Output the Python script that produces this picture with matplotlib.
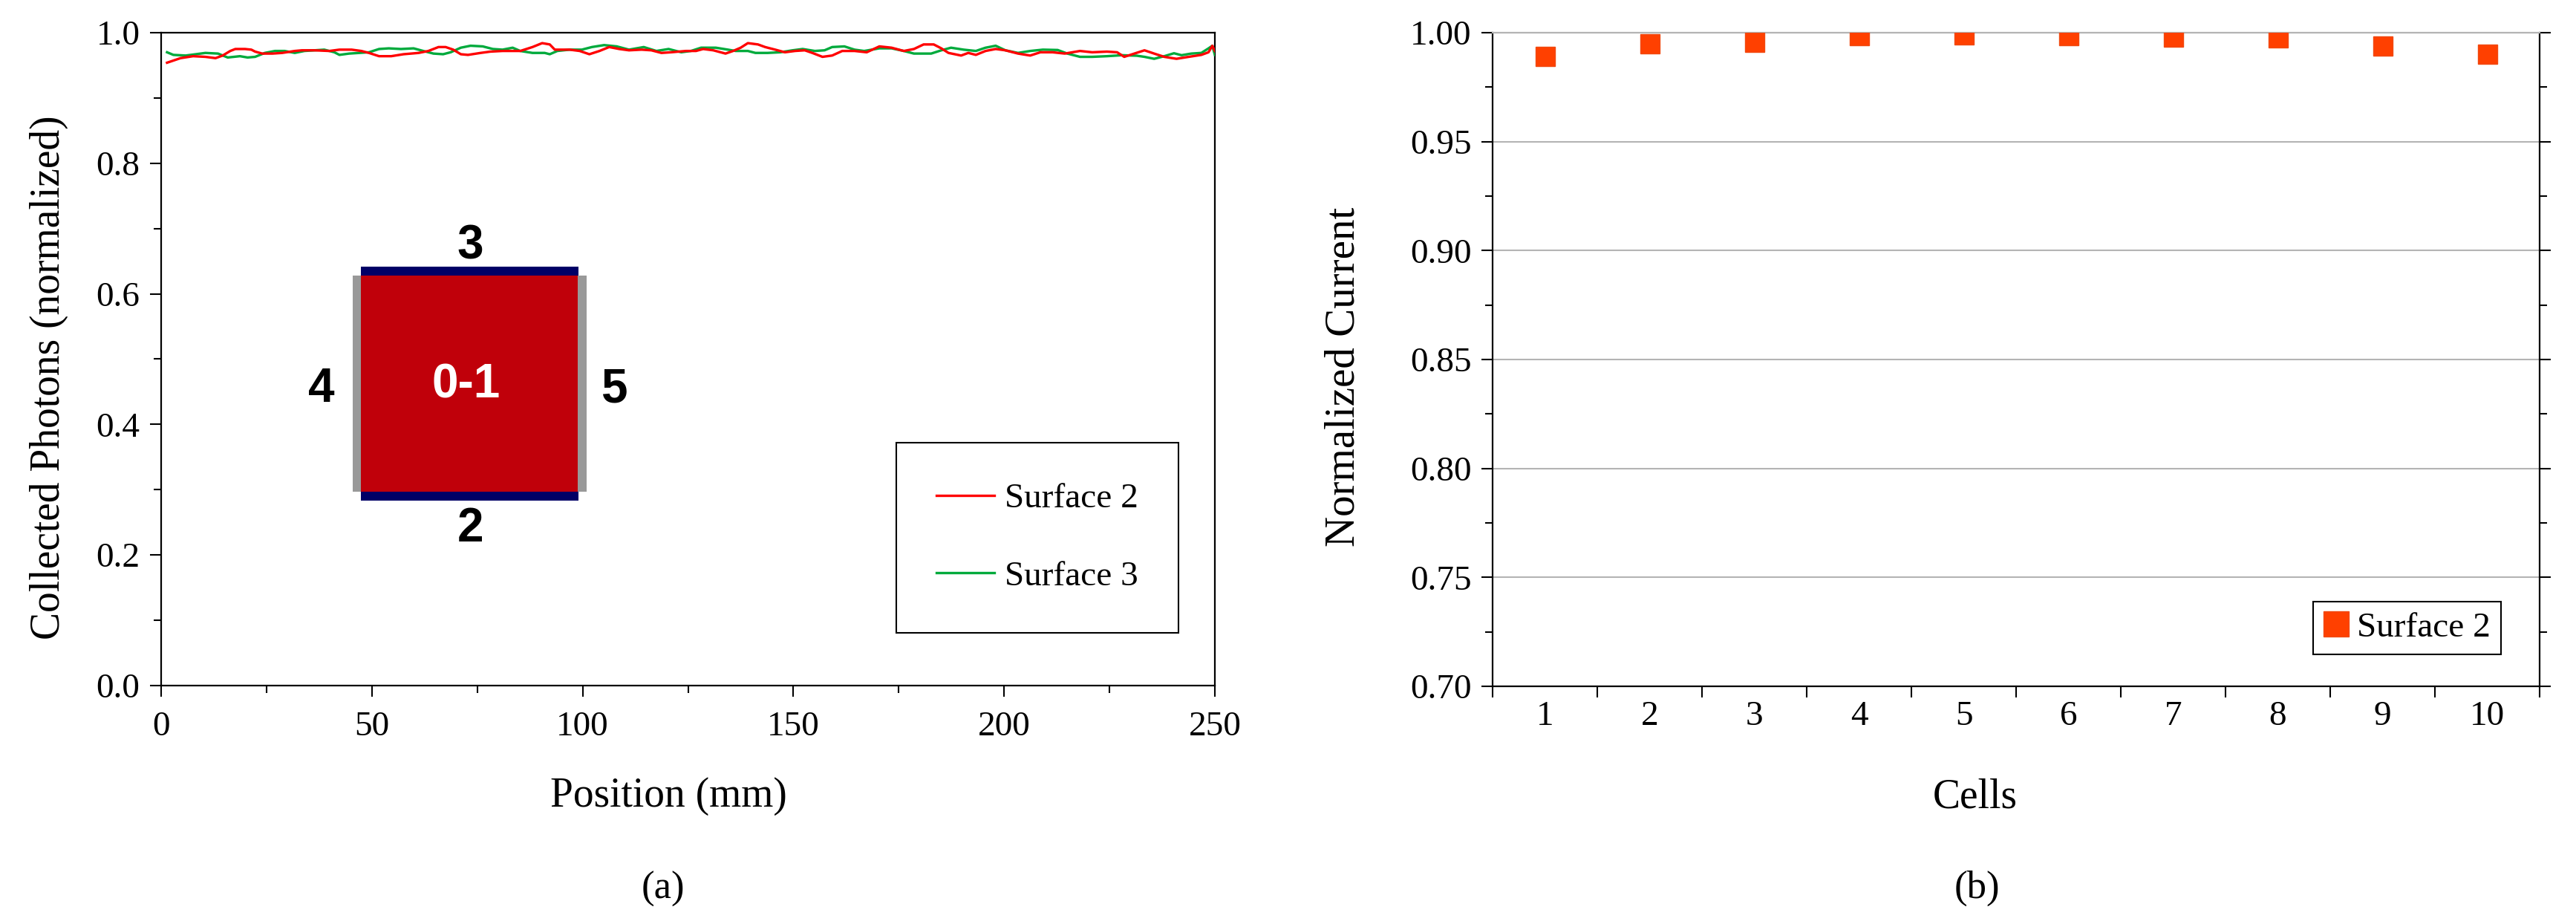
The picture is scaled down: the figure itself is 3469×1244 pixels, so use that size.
import numpy as np
import matplotlib
matplotlib.use("Agg")
import matplotlib.pyplot as plt
from matplotlib.patches import Rectangle
from matplotlib.ticker import MultipleLocator, FormatStrFormatter

# (a) collected photons (normalized) along the bar
pos_s2 = [1.4, 4.6, 7.6, 10.5, 12.9, 14.6, 16.4, 17.6, 19.9, 21.4,
          22.3, 24.0, 26.4, 28.7, 31.7, 33.4, 36.4, 39.9, 42.3, 45.2,
          47.5, 49.3, 51.7, 54.6, 57.5, 61.1, 63.4, 65.8, 67.5, 69.3,
          71.1, 72.8, 75.8, 78.1, 81.0, 85.2, 88.1, 90.4, 92.2, 93.4,
          96.9, 99.3, 101.6, 104.0, 106.3, 108.7, 111.0, 114.0, 116.3, 118.7,
          121.0, 124.5, 126.9, 128.6, 131.0, 133.9, 135.7, 137.5, 139.2, 141.6,
          143.3, 145.7, 148.0, 150.4, 152.7, 154.5, 156.9, 159.2, 161.6, 164.5,
          167.4, 170.4, 173.3, 176.2, 178.6, 180.9, 183.3, 185.1, 186.8, 189.8,
          191.5, 193.3, 195.6, 198.0, 200.3, 203.3, 206.2, 208.6, 211.5, 214.4,
          218.0, 220.9, 224.4, 226.8, 228.5, 230.9, 233.3, 235.6, 238.0, 240.9,
          243.8, 246.8, 248.5, 249.4, 250.0]
val_s2 = [0.954, 0.961, 0.964, 0.963, 0.961, 0.965, 0.972, 0.975, 0.975, 0.974,
          0.971, 0.968, 0.968, 0.969, 0.972, 0.973, 0.973, 0.972, 0.974, 0.974,
          0.972, 0.969, 0.964, 0.964, 0.967, 0.969, 0.972, 0.978, 0.978, 0.974,
          0.967, 0.966, 0.969, 0.971, 0.972, 0.972, 0.978, 0.984, 0.982, 0.974,
          0.974, 0.972, 0.967, 0.972, 0.978, 0.975, 0.973, 0.974, 0.973, 0.969,
          0.970, 0.972, 0.972, 0.975, 0.973, 0.968, 0.972, 0.977, 0.984, 0.982,
          0.978, 0.974, 0.970, 0.972, 0.973, 0.969, 0.963, 0.965, 0.972, 0.972,
          0.970, 0.979, 0.977, 0.972, 0.975, 0.982, 0.982, 0.976, 0.969, 0.965,
          0.969, 0.966, 0.972, 0.975, 0.973, 0.968, 0.965, 0.970, 0.970, 0.968,
          0.972, 0.970, 0.971, 0.970, 0.963, 0.968, 0.973, 0.968, 0.963, 0.960,
          0.963, 0.966, 0.970, 0.980, 0.972]

pos_s3 = [1.4, 2.9, 5.8, 8.2, 10.5, 13.5, 15.8, 18.7, 20.5, 22.3,
          24.6, 27.0, 29.3, 31.7, 34.0, 36.4, 38.7, 41.1, 42.3, 44.6,
          47.0, 49.3, 51.7, 54.0, 56.9, 59.9, 62.2, 64.6, 66.9, 68.7,
          71.1, 73.4, 76.3, 78.7, 81.0, 83.4, 85.2, 88.1, 91.0, 92.2,
          94.0, 96.9, 99.8, 102.2, 105.1, 108.1, 111.0, 114.5, 117.5, 120.4,
          123.4, 125.7, 128.1, 131.6, 134.5, 136.3, 139.2, 141.0, 143.9, 146.9,
          149.8, 152.2, 155.1, 157.4, 159.2, 162.1, 164.5, 166.8, 170.4, 173.3,
          176.2, 178.6, 182.7, 185.1, 187.4, 190.4, 193.3, 195.6, 198.0, 200.3,
          203.3, 206.2, 209.2, 212.7, 215.0, 218.0, 220.9, 224.4, 228.0, 231.5,
          233.3, 235.6, 238.0, 240.3, 242.1, 244.4, 246.8, 248.5, 249.4, 250.0]
val_s3 = [0.970, 0.966, 0.965, 0.967, 0.969, 0.968, 0.962, 0.964, 0.962, 0.963,
          0.969, 0.972, 0.972, 0.969, 0.972, 0.973, 0.974, 0.970, 0.966, 0.968,
          0.969, 0.970, 0.975, 0.976, 0.975, 0.976, 0.972, 0.968, 0.967, 0.970,
          0.977, 0.980, 0.979, 0.975, 0.974, 0.977, 0.972, 0.969, 0.969, 0.967,
          0.972, 0.974, 0.974, 0.978, 0.981, 0.979, 0.974, 0.978, 0.972, 0.975,
          0.970, 0.972, 0.977, 0.977, 0.974, 0.972, 0.972, 0.969, 0.969, 0.970,
          0.973, 0.975, 0.972, 0.973, 0.978, 0.979, 0.974, 0.972, 0.976, 0.976,
          0.972, 0.968, 0.968, 0.973, 0.977, 0.974, 0.972, 0.977, 0.980, 0.973,
          0.969, 0.972, 0.974, 0.9735, 0.968, 0.963, 0.963, 0.964, 0.9655, 0.9647,
          0.963, 0.960, 0.964, 0.9685, 0.9655, 0.968, 0.969, 0.976, 0.980, 0.966]

# (b) normalized current per cell
cells = [1, 2, 3, 4, 5, 6, 7, 8, 9, 10]
current_s2 = [0.989, 0.995, 0.9955, 0.9987, 0.9989, 0.9987, 0.9981, 0.9976, 0.9938, 0.990]

W, H = 3469, 1244
plt.rcParams["font.family"] = ["Liberation Serif", "DejaVu Serif"]
TICK = 34
LABEL = 40


def style_ticks(ax):
    ax.tick_params(which="both", direction="out", width=1.5, colors="black")
    ax.tick_params(which="major", length=10.5, labelsize=TICK)
    ax.tick_params(which="minor", length=7.5)
    ax.tick_params(axis="x", which="both", pad=14)
    ax.tick_params(axis="y", which="both", pad=10)


fig = plt.figure(figsize=(W / 100, H / 100), dpi=100)

# ---- (a)
ax1 = fig.add_axes([217 / W, 1 - 923 / H, 1419 / W, 879 / H])
ax1.plot(pos_s2, val_s2, color="#FF0000", lw=2.4, label="Surface 2", zorder=4)
ax1.plot(pos_s3, val_s3, color="#00AA3C", lw=2.4, label="Surface 3", zorder=3)
ax1.set_xlim(0, 250)
ax1.set_ylim(0, 1.0)
ax1.xaxis.set_major_locator(MultipleLocator(50))
ax1.xaxis.set_minor_locator(MultipleLocator(25))
ax1.yaxis.set_major_locator(MultipleLocator(0.2))
ax1.yaxis.set_minor_locator(MultipleLocator(0.1))
ax1.yaxis.set_major_formatter(FormatStrFormatter("%.1f"))
style_ticks(ax1)
for s in ax1.spines.values():
    s.set_linewidth(1.6)

# sketch of the bar cross-section
ax1.add_patch(Rectangle((47.4, 0.2973), 51.5, 0.331, color="#C0000A", lw=0, zorder=2))
ax1.add_patch(Rectangle((47.4, 0.6283), 51.7, 0.0129, color="#000066", lw=0, zorder=2))
ax1.add_patch(Rectangle((47.4, 0.2833), 51.7, 0.014, color="#000066", lw=0, zorder=2))
ax1.add_patch(Rectangle((45.5, 0.2973), 1.9, 0.331, color="#999999", lw=0, zorder=2))
ax1.add_patch(Rectangle((98.9, 0.2973), 2.1, 0.331, color="#999999", lw=0, zorder=2))
bold = dict(family=["Liberation Sans", "DejaVu Sans"], fontweight="bold", fontsize=46,
            ha="center", va="center_baseline")
ax1.text(73.3, 0.680, "3", **bold)
ax1.text(73.3, 0.248, "2", **bold)
ax1.text(38.1, 0.461, "4", **bold)
ax1.text(107.5, 0.461, "5", **bold)
ax1.text(72.3, 0.4676, "0-1", color="white", zorder=5, **bold)

leg1 = ax1.legend(loc="upper left", bbox_to_anchor=(0.6975, 0.372), fontsize=34,
                  frameon=True, fancybox=False, framealpha=1, edgecolor="black",
                  borderpad=1.15, labelspacing=1.3, handlelength=1.65,
                  handletextpad=0.3, borderaxespad=0)
leg1.get_frame().set_linewidth(1.5)

# ---- (b)
ax2 = fig.add_axes([2010 / W, 1 - 924 / H, 1410 / W, 880 / H])
ax2.plot(cells, current_s2, linestyle="none", marker="s", markersize=18.5,
         mfc="#FF4000", mec="#F04A10", mew=1, label="Surface 2", zorder=4)
ax2.set_xlim(0.5, 10.5)
ax2.set_ylim(0.70, 1.00)
ax2.set_xticks(np.arange(0.5, 11, 1))
ax2.set_xticklabels([])
ax2.set_xticks(cells, minor=True)
ax2.set_xticklabels([str(c) for c in cells], minor=True)
ax2.yaxis.set_major_locator(MultipleLocator(0.05))
ax2.yaxis.set_minor_locator(MultipleLocator(0.025))
ax2.yaxis.set_major_formatter(FormatStrFormatter("%.2f"))
style_ticks(ax2)
ax2.tick_params(axis="x", which="minor", length=0, labelsize=TICK)
ax2.tick_params(axis="y", which="both", right=True)
ax2.grid(axis="y", which="major", color="#B4B4B4", lw=1.5)
ax2.set_axisbelow(True)
for s in ax2.spines.values():
    s.set_linewidth(1.6)
ax2.spines["top"].set_color("#B4B4B4")

leg2 = ax2.legend(loc="lower left", bbox_to_anchor=(0.7837, 0.0489), fontsize=34,
                  frameon=True, fancybox=False, framealpha=1, edgecolor="black",
                  borderpad=0.3, handlelength=0.7, handletextpad=0.25,
                  markerscale=1.3, borderaxespad=0)
leg2.get_frame().set_linewidth(1.5)

# axis titles and panel captions
def ftext(x, y, s, **kw):
    fig.text(x / W, 1 - y / H, s, ha="center", va="center", **kw)

ftext(66, 508, "Collected Photons (normalized)", fontsize=LABEL, rotation=90)
ftext(900, 1072, "Position (mm)", fontsize=LABEL)
ftext(893, 1197, "(a)", fontsize=38)
ftext(1810, 507, "Normalized Current", fontsize=41, rotation=90)
ftext(2660, 1073, "Cells", fontsize=LABEL)
ftext(2662, 1196, "(b)", fontsize=38)

fig.savefig("out.png", dpi=100, facecolor="white")
